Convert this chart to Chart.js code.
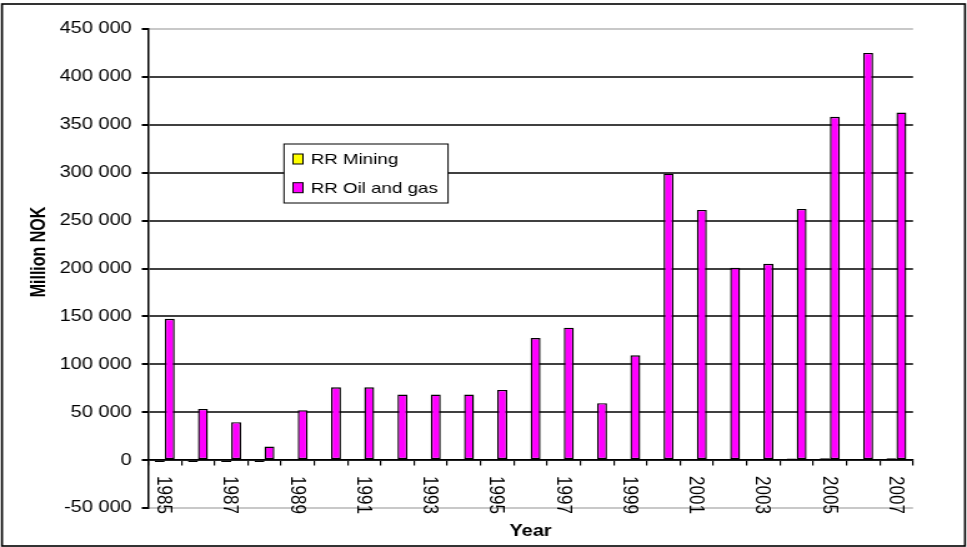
<!DOCTYPE html>
<html>
<head>
<meta charset="utf-8">
<title>Resource rent</title>
<script src="https://cdn.jsdelivr.net/npm/chart.js@4/dist/chart.umd.min.js"></script>
<style>
  body { margin: 0; background: #fff; }
  #rentChart { display: block; }
</style>
</head>
<body>
<canvas id="rentChart" width="774" height="547" style="width:967px;height:547px"></canvas>
<script>
const years = ['1985', '1986', '1987', '1988', '1989', '1990', '1991', '1992', '1993', '1994', '1995', '1996',
  '1997', '1998', '1999', '2000', '2001', '2002', '2003', '2004', '2005', '2006', '2007'];
const miningRent = [-2000, -2000, -2000, -2000, 0, 0, 0, 0, 0, 0, 0, 0,
  0, 0, 0, 0, 0, 0, 0, 1800, 2000, 0, 2000];
const oilGasRent = [147500, 53400, 39600, 14200, 52100, 76000, 76000, 68400, 68400, 68400, 73300, 127400,
  138200, 59400, 109400, 299000, 261100, 200700, 204900, 262200, 358300, 425000, 362800];
const yTicks = { min: -50000, max: 450000, step: 50000 };

const FONT = "'Liberation Sans', Arial, sans-serif";

function formatNumber(v) {
  const s = String(Math.abs(v)).replace(/\B(?=(\d{3})+(?!\d))/g, ' ');
  return (v < 0 ? '-' : '') + s;
}

// empty years get no outline at all
function barBorder(ctx) {
  return ctx.raw === 0 ? 0 : 1.4;
}

// frame, year labels, axis titles and the boxed legend
const decorations = {
  id: 'decorations',
  beforeDraw(chart) {
    const ctx = chart.ctx;
    ctx.save();
    ctx.fillStyle = '#fff';
    ctx.fillRect(0, 0, chart.width, chart.height);
    ctx.restore();
  },
  afterDraw(chart) {
    const ctx = chart.ctx;
    const x = chart.scales.x;
    const y = chart.scales.y;
    const area = chart.chartArea;
    const zero = y.getPixelForValue(0);

    ctx.save();
    ctx.fillStyle = '#000';
    ctx.font = '17px ' + FONT;
    ctx.textAlign = 'left';
    ctx.textBaseline = 'middle';
    years.forEach((yr, i) => {
      if (i % 2) return;
      ctx.save();
      ctx.translate(x.getPixelForValue(i) - 1, zero + 16);
      ctx.rotate(Math.PI / 2);
      ctx.fillText(yr, 0, 0);
      ctx.restore();
    });

    ctx.font = 'bold 16px ' + FONT;
    ctx.textAlign = 'center';
    ctx.fillText('Year', (area.left + area.right) / 2, 532);
    ctx.save();
    ctx.translate(31.2, 252);
    ctx.rotate(-Math.PI / 2);
    ctx.fillText('Million NOK', 0, 0);
    ctx.restore();

    // legend
    const lx = 227.3, ly = 144, lw = 131.3, lh = 59;
    ctx.fillStyle = '#fff';
    ctx.fillRect(lx, ly, lw, lh);
    ctx.strokeStyle = '#000';
    ctx.lineWidth = 1;
    ctx.strokeRect(lx, ly, lw, lh);
    ctx.font = '15px ' + FONT;
    ctx.textAlign = 'left';
    const rows = [159, 187.7];
    chart.data.datasets.forEach((ds, i) => {
      ctx.fillStyle = ds.backgroundColor;
      ctx.fillRect(234.5, rows[i] - 5, 8, 10);
      ctx.strokeRect(234.5, rows[i] - 5, 8, 10);
      ctx.fillStyle = '#000';
      ctx.fillText(ds.label, 248.7, rows[i] + 1);
    });

    // outer frame
    ctx.lineWidth = 1.6;
    ctx.strokeRect(1.6, 4, 770.8, 542);
    ctx.restore();
  }
};

const chart = new Chart(document.getElementById('rentChart'), {
  type: 'bar',
  data: {
    labels: years,
    datasets: [{
      label: 'RR Mining',
      data: miningRent,
      backgroundColor: '#ffff00',
      borderColor: '#000',
      borderWidth: barBorder,
      borderSkipped: false
    }, {
      label: 'RR Oil and gas',
      data: oilGasRent,
      backgroundColor: '#ff00ff',
      borderColor: '#000',
      borderWidth: barBorder,
      borderSkipped: false
    }]
  },
  options: {
    responsive: false,
    animation: false,
    devicePixelRatio: 1,
    datasets: {
      bar: { categoryPercentage: 0.6, barPercentage: 1 }
    },
    layout: { padding: { left: 0, top: 29, right: 43.2, bottom: 39 } },
    plugins: {
      legend: { display: false },
      tooltip: { enabled: false }
    },
    scales: {
      x: {
        type: 'category',
        position: { y: 0 },
        ticks: { display: false },
        grid: { drawOnChartArea: false, tickLength: 5, color: '#000', lineWidth: 1.2 },
        border: { color: '#000', width: 1.5 }
      },
      y: {
        min: yTicks.min,
        max: yTicks.max,
        afterFit(scale) { scale.width = 118.5; },
        ticks: {
          stepSize: yTicks.step,
          padding: 8,
          color: '#000',
          font: { family: FONT, size: 16 },
          callback: v => formatNumber(v)
        },
        grid: {
          tickLength: 5,
          tickColor: '#000',
          lineWidth: 2,
          color: c => (c.tick && (c.tick.value === yTicks.max || c.tick.value === yTicks.min)) ? '#c8c8c8' : '#404040'
        },
        border: { color: '#000', width: 1.5 }
      }
    }
  },
  plugins: [decorations]
});
</script>
</body>
</html>
